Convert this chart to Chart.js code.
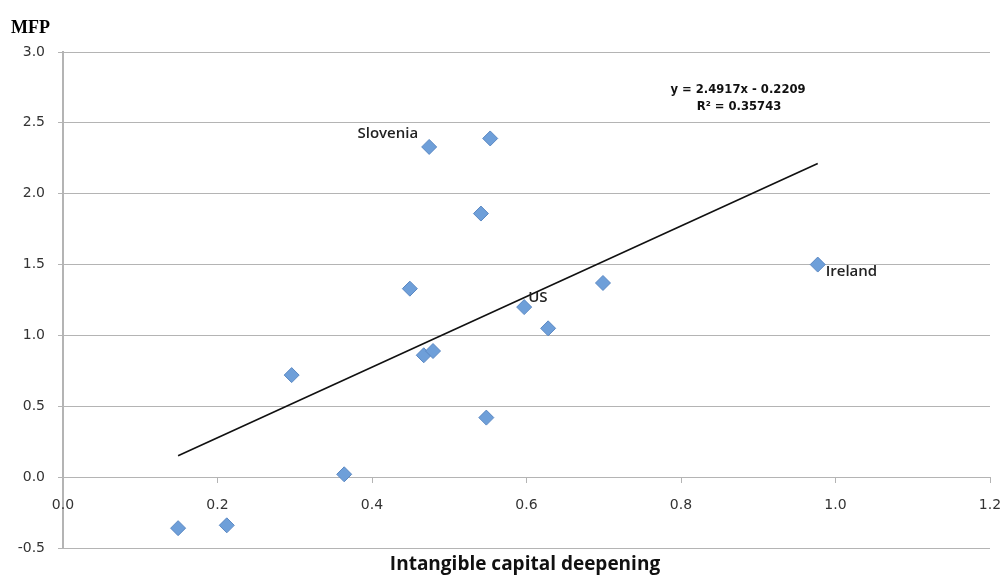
<!DOCTYPE html>
<html>
<head>
<meta charset="utf-8">
<script src="https://cdn.jsdelivr.net/npm/chart.js@4/dist/chart.umd.min.js"></script>
<style>
  body { margin: 0; background: #fff; }
  #wrap { width: 1000px; height: 575px; position: relative; }
</style>
</head>
<body>
<div id="wrap"><canvas id="scatter"></canvas></div>
<script>
// Data
const countries = ["", "", "", "", "", "", "Slovenia", "", "", "", "", "US", "", "", "Ireland"]
const capitalDeepening = [0.149, 0.212, 0.296, 0.364, 0.449, 0.467, 0.474, 0.479, 0.541, 0.548, 0.553, 0.597, 0.628, 0.699, 0.977]
const mfpGrowth = [-0.36, -0.34, 0.72, 0.02, 1.33, 0.86, 2.33, 0.89, 1.86, 0.42, 2.39, 1.20, 1.05, 1.37, 1.50]

// Linear trend as printed on the chart
const slope = 2.4917
const intercept = -0.2209
const rSquared = "0.35743"

const yTicks = [-0.5, 0, 0.5, 1, 1.5, 2, 2.5, 3]

const GRID = "#b4b4b4"
const TEXT = "#333333"

// label offsets (pixels from the point)
const labelStyle = {
  Slovenia: { dx: -11, dy: -13, align: "right" },
  US: { dx: 4, dy: -9, align: "left" },
  Ireland: { dx: 8, dy: 7, align: "left" },
}

const points = capitalDeepening.map((x, i) => ({ x: x, y: mfpGrowth[i] }))
const xMin = Math.min(...capitalDeepening)
const xMax = Math.max(...capitalDeepening)
const trend = [
  { x: xMin, y: slope * xMin + intercept },
  { x: xMax, y: slope * xMax + intercept },
]

const textPlugin = {
  id: "texts",
  afterDatasetsDraw(chart) {
    const ctx = chart.ctx
    ctx.save()
    ctx.textBaseline = "middle"

    // point labels
    ctx.fillStyle = "#222"
    ctx.font = "600 15px 'Open Sans', sans-serif"
    const meta = chart.getDatasetMeta(1)
    countries.forEach((name, i) => {
      if (!name) return
      const el = meta.data[i]
      const s = labelStyle[name]
      ctx.textAlign = s.align
      ctx.fillText(name, el.x + s.dx, el.y + s.dy)
    })

    // trend equation
    ctx.textAlign = "center"
    ctx.fillStyle = "#111"
    ctx.font = "bold 11.6px 'DejaVu Sans', sans-serif"
    ctx.fillText("y = " + slope + "x - " + Math.abs(intercept), 738, 90)
    ctx.fillText("R\u00b2 = " + rSquared, 739, 107)

    // axis titles
    ctx.fillStyle = "#000"
    ctx.textAlign = "left"
    ctx.font = "bold 18px 'Liberation Serif', serif"
    ctx.fillText("MFP", 11, 28)
    ctx.textAlign = "center"
    ctx.fillStyle = "#111"
    ctx.font = "bold 19px 'Open Sans', sans-serif"
    ctx.fillText("Intangible capital deepening", 525, 565)
    ctx.restore()
  },
}

new Chart(document.getElementById("scatter"), {
  type: "scatter",
  data: {
    datasets: [
      {
        type: "line",
        data: trend,
        borderColor: "#111",
        borderWidth: 1.6,
        pointRadius: 0,
        fill: false,
      },
      {
        data: points,
        pointStyle: "rectRot",
        pointRadius: 7.5,
        backgroundColor: "#6e9fd9",
        borderColor: "#5b88c2",
        borderWidth: 1,
      },
    ],
  },
  options: {
    responsive: true,
    maintainAspectRatio: false,
    animation: false,
    layout: { padding: { top: 52, right: 10, bottom: 27, left: 0 } },
    plugins: {
      legend: { display: false },
      tooltip: { enabled: false },
    },
    scales: {
      x: {
        type: "linear",
        position: { y: 0 },
        min: 0,
        max: 1.2,
        afterFit: (scale) => { scale.paddingLeft = 0; scale.paddingRight = 0 },
        ticks: {
          stepSize: 0.2,
          padding: 15,
          color: TEXT,
          font: { family: "'DejaVu Sans', sans-serif", size: 14 },
          callback: (v) => v.toFixed(1),
        },
        grid: { drawOnChartArea: false, drawTicks: true, tickLength: 5, color: GRID },
        border: { display: true, color: GRID, width: 1 },
      },
      y: {
        min: -0.5,
        max: 3,
        afterFit: (scale) => { scale.width = 63 },
        afterBuildTicks: (scale) => { scale.ticks = yTicks.map((v) => ({ value: v })) },
        ticks: {
          padding: 13,
          color: TEXT,
          font: { family: "'DejaVu Sans', sans-serif", size: 14 },
          callback: (v) => v.toFixed(1),
        },
        grid: { color: GRID, tickLength: 5 },
        border: { display: true, color: GRID, width: 2, z: -1 },
      },
    },
  },
  plugins: [textPlugin],
})
</script>
</body>
</html>
